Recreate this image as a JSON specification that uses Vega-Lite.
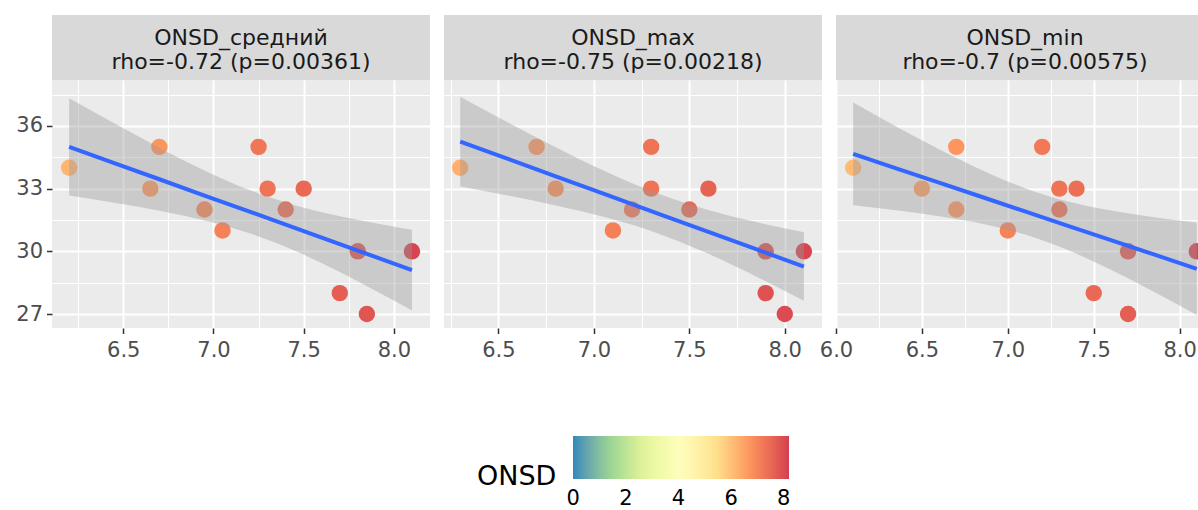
{
  "$schema": "https://vega.github.io/schema/vega-lite/v6.json",
  "background": "white",
  "padding": {"left": 12, "top": 15, "right": 0, "bottom": 0},
  "datasets": {
    "strips": [
      {"panel": "ONSD_средний", "label": "ONSD_средний\nrho=-0.72 (p=0.00361)"},
      {"panel": "ONSD_max", "label": "ONSD_max\nrho=-0.75 (p=0.00218)"},
      {"panel": "ONSD_min", "label": "ONSD_min\nrho=-0.7 (p=0.00575)"}
    ],
    "points": [
      {"panel": "ONSD_средний", "ONSD": 6.2, "score": 34},
      {"panel": "ONSD_средний", "ONSD": 6.65, "score": 33},
      {"panel": "ONSD_средний", "ONSD": 6.7, "score": 35},
      {"panel": "ONSD_средний", "ONSD": 6.95, "score": 32},
      {"panel": "ONSD_средний", "ONSD": 7.05, "score": 31},
      {"panel": "ONSD_средний", "ONSD": 7.25, "score": 35},
      {"panel": "ONSD_средний", "ONSD": 7.3, "score": 33},
      {"panel": "ONSD_средний", "ONSD": 7.4, "score": 32},
      {"panel": "ONSD_средний", "ONSD": 7.5, "score": 33},
      {"panel": "ONSD_средний", "ONSD": 7.7, "score": 28},
      {"panel": "ONSD_средний", "ONSD": 7.8, "score": 30},
      {"panel": "ONSD_средний", "ONSD": 7.85, "score": 27},
      {"panel": "ONSD_средний", "ONSD": 8.1, "score": 30},
      {"panel": "ONSD_max", "ONSD": 6.3, "score": 34},
      {"panel": "ONSD_max", "ONSD": 6.7, "score": 35},
      {"panel": "ONSD_max", "ONSD": 6.8, "score": 33},
      {"panel": "ONSD_max", "ONSD": 7.1, "score": 31},
      {"panel": "ONSD_max", "ONSD": 7.2, "score": 32},
      {"panel": "ONSD_max", "ONSD": 7.3, "score": 35},
      {"panel": "ONSD_max", "ONSD": 7.3, "score": 33},
      {"panel": "ONSD_max", "ONSD": 7.5, "score": 32},
      {"panel": "ONSD_max", "ONSD": 7.6, "score": 33},
      {"panel": "ONSD_max", "ONSD": 7.9, "score": 30},
      {"panel": "ONSD_max", "ONSD": 7.9, "score": 28},
      {"panel": "ONSD_max", "ONSD": 8.0, "score": 27},
      {"panel": "ONSD_max", "ONSD": 8.1, "score": 30},
      {"panel": "ONSD_min", "ONSD": 6.1, "score": 34},
      {"panel": "ONSD_min", "ONSD": 6.5, "score": 33},
      {"panel": "ONSD_min", "ONSD": 6.7, "score": 35},
      {"panel": "ONSD_min", "ONSD": 6.7, "score": 32},
      {"panel": "ONSD_min", "ONSD": 7.0, "score": 31},
      {"panel": "ONSD_min", "ONSD": 7.2, "score": 35},
      {"panel": "ONSD_min", "ONSD": 7.3, "score": 33},
      {"panel": "ONSD_min", "ONSD": 7.3, "score": 32},
      {"panel": "ONSD_min", "ONSD": 7.4, "score": 33},
      {"panel": "ONSD_min", "ONSD": 7.5, "score": 28},
      {"panel": "ONSD_min", "ONSD": 7.7, "score": 30},
      {"panel": "ONSD_min", "ONSD": 7.7, "score": 27},
      {"panel": "ONSD_min", "ONSD": 8.1, "score": 30}
    ],
    "smooth": [
      {"panel": "ONSD_средний", "ONSD": 6.2, "fit": 35.0, "lo": 32.67, "hi": 37.33},
      {"panel": "ONSD_средний", "ONSD": 6.45, "fit": 34.22, "lo": 32.32, "hi": 36.13},
      {"panel": "ONSD_средний", "ONSD": 6.7, "fit": 33.45, "lo": 31.94, "hi": 34.96},
      {"panel": "ONSD_средний", "ONSD": 6.95, "fit": 32.67, "lo": 31.47, "hi": 33.87},
      {"panel": "ONSD_средний", "ONSD": 7.2, "fit": 31.9, "lo": 30.86, "hi": 32.93},
      {"panel": "ONSD_средний", "ONSD": 7.45, "fit": 31.12, "lo": 30.03, "hi": 32.21},
      {"panel": "ONSD_средний", "ONSD": 7.7, "fit": 30.34, "lo": 29.01, "hi": 31.68},
      {"panel": "ONSD_средний", "ONSD": 7.95, "fit": 29.57, "lo": 27.87, "hi": 31.26},
      {"panel": "ONSD_средний", "ONSD": 8.1, "fit": 29.1, "lo": 27.17, "hi": 31.03},
      {"panel": "ONSD_max", "ONSD": 6.3, "fit": 35.25, "lo": 33.1, "hi": 37.4},
      {"panel": "ONSD_max", "ONSD": 6.55, "fit": 34.42, "lo": 32.67, "hi": 36.17},
      {"panel": "ONSD_max", "ONSD": 6.8, "fit": 33.59, "lo": 32.19, "hi": 34.98},
      {"panel": "ONSD_max", "ONSD": 7.05, "fit": 32.76, "lo": 31.65, "hi": 33.87},
      {"panel": "ONSD_max", "ONSD": 7.35, "fit": 31.76, "lo": 30.81, "hi": 32.72},
      {"panel": "ONSD_max", "ONSD": 7.6, "fit": 30.93, "lo": 29.88, "hi": 31.98},
      {"panel": "ONSD_max", "ONSD": 7.85, "fit": 30.1, "lo": 28.8, "hi": 31.4},
      {"panel": "ONSD_max", "ONSD": 8.1, "fit": 29.27, "lo": 27.63, "hi": 30.91},
      {"panel": "ONSD_min", "ONSD": 6.1, "fit": 34.66, "lo": 32.2, "hi": 37.12},
      {"panel": "ONSD_min", "ONSD": 6.35, "fit": 33.97, "lo": 31.96, "hi": 35.98},
      {"panel": "ONSD_min", "ONSD": 6.6, "fit": 33.29, "lo": 31.68, "hi": 34.89},
      {"panel": "ONSD_min", "ONSD": 6.85, "fit": 32.6, "lo": 31.32, "hi": 33.88},
      {"panel": "ONSD_min", "ONSD": 7.1, "fit": 31.91, "lo": 30.8, "hi": 33.02},
      {"panel": "ONSD_min", "ONSD": 7.35, "fit": 31.22, "lo": 30.06, "hi": 32.38},
      {"panel": "ONSD_min", "ONSD": 7.6, "fit": 30.54, "lo": 29.12, "hi": 31.95},
      {"panel": "ONSD_min", "ONSD": 7.85, "fit": 29.85, "lo": 28.07, "hi": 31.63},
      {"panel": "ONSD_min", "ONSD": 8.1, "fit": 29.16, "lo": 26.95, "hi": 31.37}
    ]
  },
  "align": "each",
  "spacing": -3,
  "hconcat": [
    {
      "spacing": 0,
      "vconcat": [
        {
          "data": {"name": "strips"},
          "transform": [{"filter": "datum.panel === 'ONSD_средний'"}],
          "width": 378,
          "height": 65,
          "view": {"fill": "#d9d9d9", "stroke": null},
          "mark": {"type": "text", "lineBreak": "\n", "lineHeight": 24, "fontSize": 22, "color": "#1a1a1a", "baseline": "middle", "align": "center", "dy": -9.5},
          "encoding": {
            "x": {"field": "panel", "type": "nominal", "axis": null},
            "y": {"field": "panel", "type": "nominal", "axis": null},
            "text": {"field": "label"}
          }
        },
        {
          "width": 378,
          "height": 248,
          "view": {"fill": "#ebebeb", "stroke": null},
          "encoding": {
            "x": {
              "field": "ONSD", "type": "quantitative",
              "scale": {"domain": [6.105, 8.2], "nice": false, "zero": false},
              "axis": {
                "title": null,
                "values": [6.25, 6.5, 6.75, 7, 7.25, 7.5, 7.75, 8],
                "gridWidth": {"condition": {"test": "abs(datum.value * 2 - round(datum.value * 2)) < 0.001", "value": 2}, "value": 1},
                "tickOpacity": {"condition": {"test": "abs(datum.value * 2 - round(datum.value * 2)) < 0.001", "value": 1}, "value": 0},
                "labelExpr": "abs(datum.value * 2 - round(datum.value * 2)) < 0.001 ? format(datum.value, '.1f') : ''"
              }
            }
          },
          "layer": [
            {
              "data": {"name": "points"},
              "transform": [{"filter": "datum.panel === 'ONSD_средний'"}],
              "mark": {"type": "circle", "size": 270, "opacity": 1, "clip": true},
              "encoding": {
                "y": {
                  "field": "score", "type": "quantitative",
                  "scale": {"domain": [26.33, 38.2], "nice": false, "zero": false},
                  "axis": {
                    "title": null,
                    "values": [27, 28.5, 30, 31.5, 33, 34.5, 36, 37.5],
                    "gridWidth": {"condition": {"test": "datum.value % 3 === 0", "value": 2}, "value": 1},
                    "tickOpacity": {"condition": {"test": "datum.value % 3 === 0", "value": 1}, "value": 0},
                    "labelExpr": "datum.value % 3 === 0 ? format(datum.value, 'd') : ''",
                    "labelPadding": 4,
                    "minExtent": 40,
                    "maxExtent": 40
                  }
                },
                "color": {
                  "field": "ONSD", "type": "quantitative",
                  "scale": {"domain": [-0.01, 1.3667, 2.7333, 4.1, 5.4667, 6.8333, 8.2], "range": ["#3288bd", "#99d594", "#e6f598", "#ffffbf", "#fee08b", "#fc8d59", "#d53e4f"], "interpolate": "lab"},
                  "legend": {"title": "ONSD", "values": [0, 2, 4, 6, 8], "labelOffset": 9, "labelAlign": "center"}
                }
              }
            },
            {
              "data": {"name": "smooth"},
              "transform": [{"filter": "datum.panel === 'ONSD_средний'"}],
              "mark": {"type": "area", "color": "#999999", "opacity": 0.4, "interpolate": "monotone", "clip": true},
              "encoding": {
                "y": {
                  "field": "lo", "type": "quantitative",
                  "scale": {"domain": [26.33, 38.2], "nice": false, "zero": false},
                  "axis": {
                    "title": null,
                    "values": [27, 28.5, 30, 31.5, 33, 34.5, 36, 37.5],
                    "gridWidth": {"condition": {"test": "datum.value % 3 === 0", "value": 2}, "value": 1},
                    "tickOpacity": {"condition": {"test": "datum.value % 3 === 0", "value": 1}, "value": 0},
                    "labelExpr": "datum.value % 3 === 0 ? format(datum.value, 'd') : ''",
                    "labelPadding": 4,
                    "minExtent": 40,
                    "maxExtent": 40
                  }
                },
                "y2": {"field": "hi"}
              }
            },
            {
              "data": {"name": "smooth"},
              "transform": [{"filter": "datum.panel === 'ONSD_средний'"}],
              "mark": {"type": "line", "color": "#3366ff", "strokeWidth": 4, "clip": true},
              "encoding": {
                "y": {
                  "field": "fit", "type": "quantitative",
                  "scale": {"domain": [26.33, 38.2], "nice": false, "zero": false},
                  "axis": {
                    "title": null,
                    "values": [27, 28.5, 30, 31.5, 33, 34.5, 36, 37.5],
                    "gridWidth": {"condition": {"test": "datum.value % 3 === 0", "value": 2}, "value": 1},
                    "tickOpacity": {"condition": {"test": "datum.value % 3 === 0", "value": 1}, "value": 0},
                    "labelExpr": "datum.value % 3 === 0 ? format(datum.value, 'd') : ''",
                    "labelPadding": 4,
                    "minExtent": 40,
                    "maxExtent": 40
                  }
                }
              }
            }
          ]
        }
      ]
    },
    {
      "spacing": 0,
      "vconcat": [
        {
          "data": {"name": "strips"},
          "transform": [{"filter": "datum.panel === 'ONSD_max'"}],
          "width": 378,
          "height": 65,
          "view": {"fill": "#d9d9d9", "stroke": null},
          "mark": {"type": "text", "lineBreak": "\n", "lineHeight": 24, "fontSize": 22, "color": "#1a1a1a", "baseline": "middle", "align": "center", "dy": -9.5},
          "encoding": {
            "x": {"field": "panel", "type": "nominal", "axis": null},
            "y": {"field": "panel", "type": "nominal", "axis": null},
            "text": {"field": "label"}
          }
        },
        {
          "width": 378,
          "height": 248,
          "view": {"fill": "#ebebeb", "stroke": null},
          "encoding": {
            "x": {
              "field": "ONSD", "type": "quantitative",
              "scale": {"domain": [6.215, 8.195], "nice": false, "zero": false},
              "axis": {
                "title": null,
                "values": [6.25, 6.5, 6.75, 7, 7.25, 7.5, 7.75, 8],
                "gridWidth": {"condition": {"test": "abs(datum.value * 2 - round(datum.value * 2)) < 0.001", "value": 2}, "value": 1},
                "tickOpacity": {"condition": {"test": "abs(datum.value * 2 - round(datum.value * 2)) < 0.001", "value": 1}, "value": 0},
                "labelExpr": "abs(datum.value * 2 - round(datum.value * 2)) < 0.001 ? format(datum.value, '.1f') : ''"
              }
            }
          },
          "layer": [
            {
              "data": {"name": "points"},
              "transform": [{"filter": "datum.panel === 'ONSD_max'"}],
              "mark": {"type": "circle", "size": 270, "opacity": 1, "clip": true},
              "encoding": {
                "y": {
                  "field": "score", "type": "quantitative",
                  "scale": {"domain": [26.33, 38.2], "nice": false, "zero": false},
                  "axis": {
                    "title": null,
                    "values": [27, 28.5, 30, 31.5, 33, 34.5, 36, 37.5],
                    "gridWidth": {"condition": {"test": "datum.value % 3 === 0", "value": 2}, "value": 1},
                    "labels": false,
                    "tickOpacity": 0,
                    "tickSize": 17,
                    "minExtent": 17,
                    "maxExtent": 17
                  }
                },
                "color": {
                  "field": "ONSD", "type": "quantitative",
                  "scale": {"domain": [-0.01, 1.3667, 2.7333, 4.1, 5.4667, 6.8333, 8.2], "range": ["#3288bd", "#99d594", "#e6f598", "#ffffbf", "#fee08b", "#fc8d59", "#d53e4f"], "interpolate": "lab"},
                  "legend": {"title": "ONSD", "values": [0, 2, 4, 6, 8], "labelOffset": 9, "labelAlign": "center"}
                }
              }
            },
            {
              "data": {"name": "smooth"},
              "transform": [{"filter": "datum.panel === 'ONSD_max'"}],
              "mark": {"type": "area", "color": "#999999", "opacity": 0.4, "interpolate": "monotone", "clip": true},
              "encoding": {
                "y": {
                  "field": "lo", "type": "quantitative",
                  "scale": {"domain": [26.33, 38.2], "nice": false, "zero": false},
                  "axis": {
                    "title": null,
                    "values": [27, 28.5, 30, 31.5, 33, 34.5, 36, 37.5],
                    "gridWidth": {"condition": {"test": "datum.value % 3 === 0", "value": 2}, "value": 1},
                    "labels": false,
                    "tickOpacity": 0,
                    "tickSize": 17,
                    "minExtent": 17,
                    "maxExtent": 17
                  }
                },
                "y2": {"field": "hi"}
              }
            },
            {
              "data": {"name": "smooth"},
              "transform": [{"filter": "datum.panel === 'ONSD_max'"}],
              "mark": {"type": "line", "color": "#3366ff", "strokeWidth": 4, "clip": true},
              "encoding": {
                "y": {
                  "field": "fit", "type": "quantitative",
                  "scale": {"domain": [26.33, 38.2], "nice": false, "zero": false},
                  "axis": {
                    "title": null,
                    "values": [27, 28.5, 30, 31.5, 33, 34.5, 36, 37.5],
                    "gridWidth": {"condition": {"test": "datum.value % 3 === 0", "value": 2}, "value": 1},
                    "labels": false,
                    "tickOpacity": 0,
                    "tickSize": 17,
                    "minExtent": 17,
                    "maxExtent": 17
                  }
                }
              }
            }
          ]
        }
      ]
    },
    {
      "spacing": 0,
      "vconcat": [
        {
          "data": {"name": "strips"},
          "transform": [{"filter": "datum.panel === 'ONSD_min'"}],
          "width": 362,
          "height": 65,
          "view": {"fill": "#d9d9d9", "stroke": null},
          "mark": {"type": "text", "lineBreak": "\n", "lineHeight": 24, "fontSize": 22, "color": "#1a1a1a", "baseline": "middle", "align": "center", "dy": -9.5, "dx": 8},
          "encoding": {
            "x": {"field": "panel", "type": "nominal", "axis": null},
            "y": {"field": "panel", "type": "nominal", "axis": null},
            "text": {"field": "label"}
          }
        },
        {
          "width": 362,
          "height": 248,
          "view": {"fill": "#ebebeb", "stroke": null},
          "encoding": {
            "x": {
              "field": "ONSD", "type": "quantitative",
              "scale": {"domain": [6.0, 8.107], "nice": false, "zero": false},
              "axis": {
                "title": null,
                "values": [6, 6.25, 6.5, 6.75, 7, 7.25, 7.5, 7.75, 8],
                "gridWidth": {"condition": {"test": "abs(datum.value * 2 - round(datum.value * 2)) < 0.001", "value": 2}, "value": 1},
                "tickOpacity": {"condition": {"test": "abs(datum.value * 2 - round(datum.value * 2)) < 0.001", "value": 1}, "value": 0},
                "labelExpr": "abs(datum.value * 2 - round(datum.value * 2)) < 0.001 ? format(datum.value, '.1f') : ''"
              }
            }
          },
          "layer": [
            {
              "data": {"name": "points"},
              "transform": [{"filter": "datum.panel === 'ONSD_min'"}],
              "mark": {"type": "circle", "size": 270, "opacity": 1, "clip": true},
              "encoding": {
                "y": {
                  "field": "score", "type": "quantitative",
                  "scale": {"domain": [26.33, 38.2], "nice": false, "zero": false},
                  "axis": {
                    "title": null,
                    "values": [27, 28.5, 30, 31.5, 33, 34.5, 36, 37.5],
                    "gridWidth": {"condition": {"test": "datum.value % 3 === 0", "value": 2}, "value": 1},
                    "labels": false,
                    "tickOpacity": 0,
                    "tickSize": 17,
                    "minExtent": 17,
                    "maxExtent": 17
                  }
                },
                "color": {
                  "field": "ONSD", "type": "quantitative",
                  "scale": {"domain": [-0.01, 1.3667, 2.7333, 4.1, 5.4667, 6.8333, 8.2], "range": ["#3288bd", "#99d594", "#e6f598", "#ffffbf", "#fee08b", "#fc8d59", "#d53e4f"], "interpolate": "lab"},
                  "legend": {"title": "ONSD", "values": [0, 2, 4, 6, 8], "labelOffset": 9, "labelAlign": "center"}
                }
              }
            },
            {
              "data": {"name": "smooth"},
              "transform": [{"filter": "datum.panel === 'ONSD_min'"}],
              "mark": {"type": "area", "color": "#999999", "opacity": 0.4, "interpolate": "monotone", "clip": true},
              "encoding": {
                "y": {
                  "field": "lo", "type": "quantitative",
                  "scale": {"domain": [26.33, 38.2], "nice": false, "zero": false},
                  "axis": {
                    "title": null,
                    "values": [27, 28.5, 30, 31.5, 33, 34.5, 36, 37.5],
                    "gridWidth": {"condition": {"test": "datum.value % 3 === 0", "value": 2}, "value": 1},
                    "labels": false,
                    "tickOpacity": 0,
                    "tickSize": 17,
                    "minExtent": 17,
                    "maxExtent": 17
                  }
                },
                "y2": {"field": "hi"}
              }
            },
            {
              "data": {"name": "smooth"},
              "transform": [{"filter": "datum.panel === 'ONSD_min'"}],
              "mark": {"type": "line", "color": "#3366ff", "strokeWidth": 4, "clip": true},
              "encoding": {
                "y": {
                  "field": "fit", "type": "quantitative",
                  "scale": {"domain": [26.33, 38.2], "nice": false, "zero": false},
                  "axis": {
                    "title": null,
                    "values": [27, 28.5, 30, 31.5, 33, 34.5, 36, 37.5],
                    "gridWidth": {"condition": {"test": "datum.value % 3 === 0", "value": 2}, "value": 1},
                    "labels": false,
                    "tickOpacity": 0,
                    "tickSize": 17,
                    "minExtent": 17,
                    "maxExtent": 17
                  }
                }
              }
            }
          ]
        }
      ]
    }
  ],
  "config": {
    "font": "DejaVu Sans",
    "view": {"stroke": null},
    "axis": {
      "domain": false,
      "grid": true,
      "gridColor": "#ffffff",
      "labelFont": "DejaVu Sans",
      "labelFontSize": 21,
      "labelColor": "#4d4d4d",
      "labelOverlap": false,
      "labelFlush": false,
      "tickColor": "#333333",
      "tickWidth": 1.5,
      "tickSize": 5.5
    },
    "axisX": {"labelPadding": 6},
    "legend": {
      "orient": "none",
      "legendX": 425,
      "legendY": 421,
      "direction": "horizontal",
      "gradientLength": 216,
      "gradientThickness": 43,
      "gradientStrokeWidth": 0,
      "titleOrient": "left",
      "titleAnchor": "end",
      "titleBaseline": "line-bottom",
      "titleLineHeight": 4,
      "titleFont": "DejaVu Sans",
      "titleFontSize": 27,
      "titleFontWeight": "normal",
      "titleColor": "#000000",
      "titlePadding": 16,
      "labelFont": "DejaVu Sans",
      "labelFontSize": 21,
      "labelColor": "#000000"
    }
  }
}
